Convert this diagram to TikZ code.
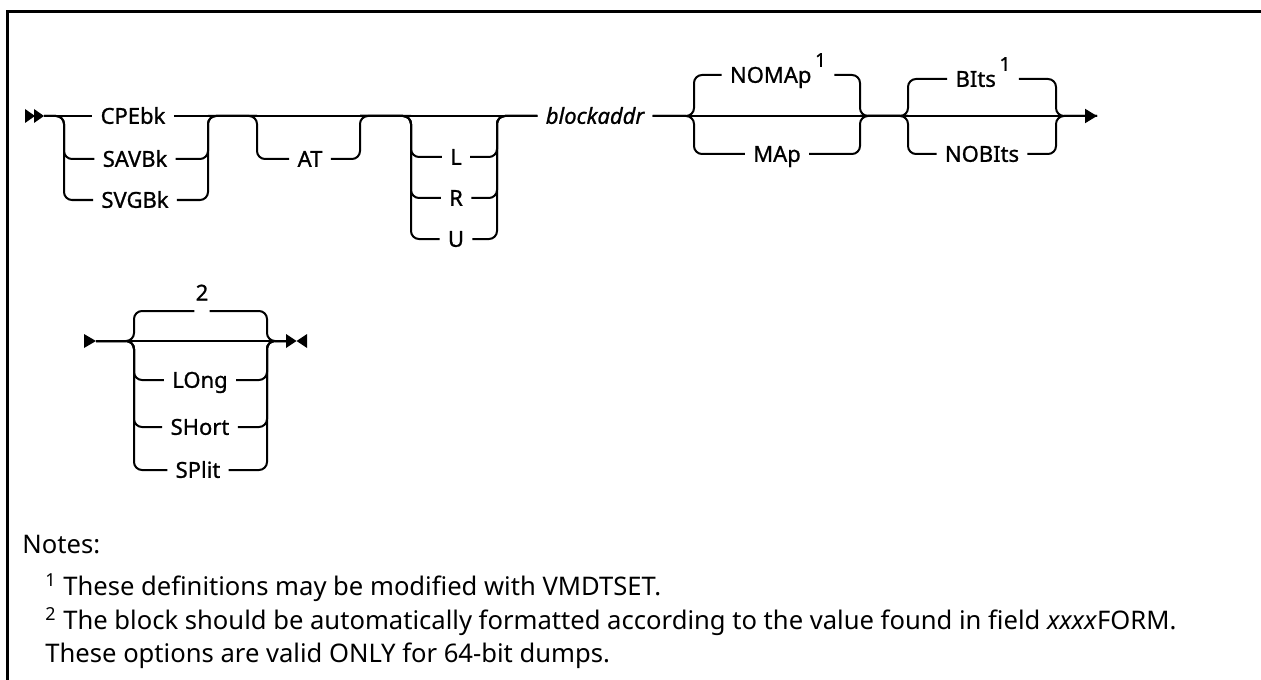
\documentclass[tikz,border=0pt]{standalone}
\usepackage{fontspec}
\setmainfont{Noto Sans}
\newfontfamily\railfont[FakeBold=1]{Noto Sans}
\usetikzlibrary{arrows.meta}
\usetikzlibrary{positioning}

\begin{document}
\begin{tikzpicture}
[x=0.5pt,y=-0.5pt,>={Triangle[length=6pt,width=7pt]},
 rail/.style={line width=1pt,rounded corners=4pt},
 kw/.style={font=\railfont\fontsize{11}{13}\selectfont,inner xsep=4pt,inner ysep=0pt,text height=10pt,text depth=2.2pt},
 note/.style={font=\fontsize{12.8}{15}\selectfont,anchor=base west,inner sep=0pt}]

\useasboundingbox (0,0) rectangle (1261,679);
\draw[line width=1.5pt] (7.5,700) -- (7.5,11.5) -- (1280,11.5);

% first line
\coordinate (s1) at (44,116);
\coordinate (aL) at (64,116);
\coordinate (aR) at (208,116);
\coordinate (bL) at (257,116);
\coordinate (bR) at (360,116);
\coordinate (cL) at (411,116);
\coordinate (cR) at (497,116);
\coordinate (dL) at (694,116);
\coordinate (dR) at (860,116);
\coordinate (eL) at (908,116);
\coordinate (eR) at (1056,116);
\coordinate (e1) at (1097,116);

\node[kw] (cpe) at (133,116) {CPEbk};
\node[kw] (sav) at (135,159) {SAVBk};
\node[kw] (svg) at (135,200) {SVGBk};
\node[kw] (at) at (310,159) {AT};
\node[kw] (l) at (456,157) {L};
\node[kw] (r) at (456,198) {R};
\node[kw] (u) at (456,239) {U};
\node[kw] (ba) at (595,116) {\itshape blockaddr};
\node[kw] (nom) at (778,75) {NOMAp\,\raisebox{8pt}{\fontsize{9.5}{10}\selectfont 1}};
\node[kw] (map) at (777,154) {MAp};
\node[kw] (bits) at (983,79) {BIts\,\raisebox{8pt}{\fontsize{9.5}{10}\selectfont 1}};
\node[kw] (nobits) at (982,154) {NOBIts};

\fill (s1) -- ++(-10,-7) -- ++(0,14) -- cycle;
\fill (s1) ++(-9,0) -- ++(-10,-7) -- ++(0,14) -- cycle;

\draw[rail] (s1) -- (cpe) -- (ba);
\draw[rail,->] (ba) -- (e1);

\foreach \n in {sav,svg}
\draw[rail] (s1) -| (\n.west -| aL) -- (\n) -| (aR) -- (bL);

\draw[rail] (aR) -| (at.west -| bL) -- (at) -| (bR) -- (cL);

\foreach \n in {l,r,u}
\draw[rail] (bR) -| (\n.west -| cL) -- (\n) -| (cR) -- (ba);

\foreach \n in {nom,map}
\draw[rail] (ba) -| (\n.west -| dL) -- (\n) -| (dR) -- (eL);

\foreach \n in {bits,nobits}
\draw[rail] (dR) -| (\n.west -| eL) -- (\n) -| (eR) -- (e1);

% second line
\coordinate (s2) at (96,341);
\coordinate (fL) at (134,341);
\coordinate (fR) at (267,341);
\coordinate (e2) at (286,341);

\node[kw,anchor=south,inner xsep=0.5pt,inner ysep=5pt,text depth=0pt] (two) at (202,311) {2};
\node[kw] (long) at (200,380) {LOng};
\node[kw] (short) at (200,427) {SHort};
\node[kw] (split) at (198,470) {SPlit};

\fill (s2) -- ++(-12,-7) -- ++(0,14) -- cycle;
\fill (e2) ++(0,-7) -- ++(10.5,7) -- ++(-10.5,7) -- cycle;
\fill (e2) ++(21,-7) -- ++(-10.5,7) -- ++(10.5,7) -- cycle;

\draw[rail] (s2) -- (e2);
\draw[rail] (s2) -| (two.south west -| fL) -- (two.south west);
\draw[rail] (two.south east) -| (fR) -- (e2);

\foreach \n in {long,short,split}
\draw[rail] (s2) -| (\n.west -| fL) -- (\n) -| (fR) -- (e2);

% notes
\node[note] (notes) at (22,553) {Notes:};
\node[note] (n1) at (45,595) {\textsuperscript{1} These definitions may be modified with VMDTSET.};
\node[note] (n2) at (45,629) {\textsuperscript{2} The block should be automatically formatted according to the value found in field \textit{xxxx}FORM.};
\node[note] (n3) at (45,662) {These options are valid ONLY for 64-bit dumps.};

\end{tikzpicture}
\end{document}
